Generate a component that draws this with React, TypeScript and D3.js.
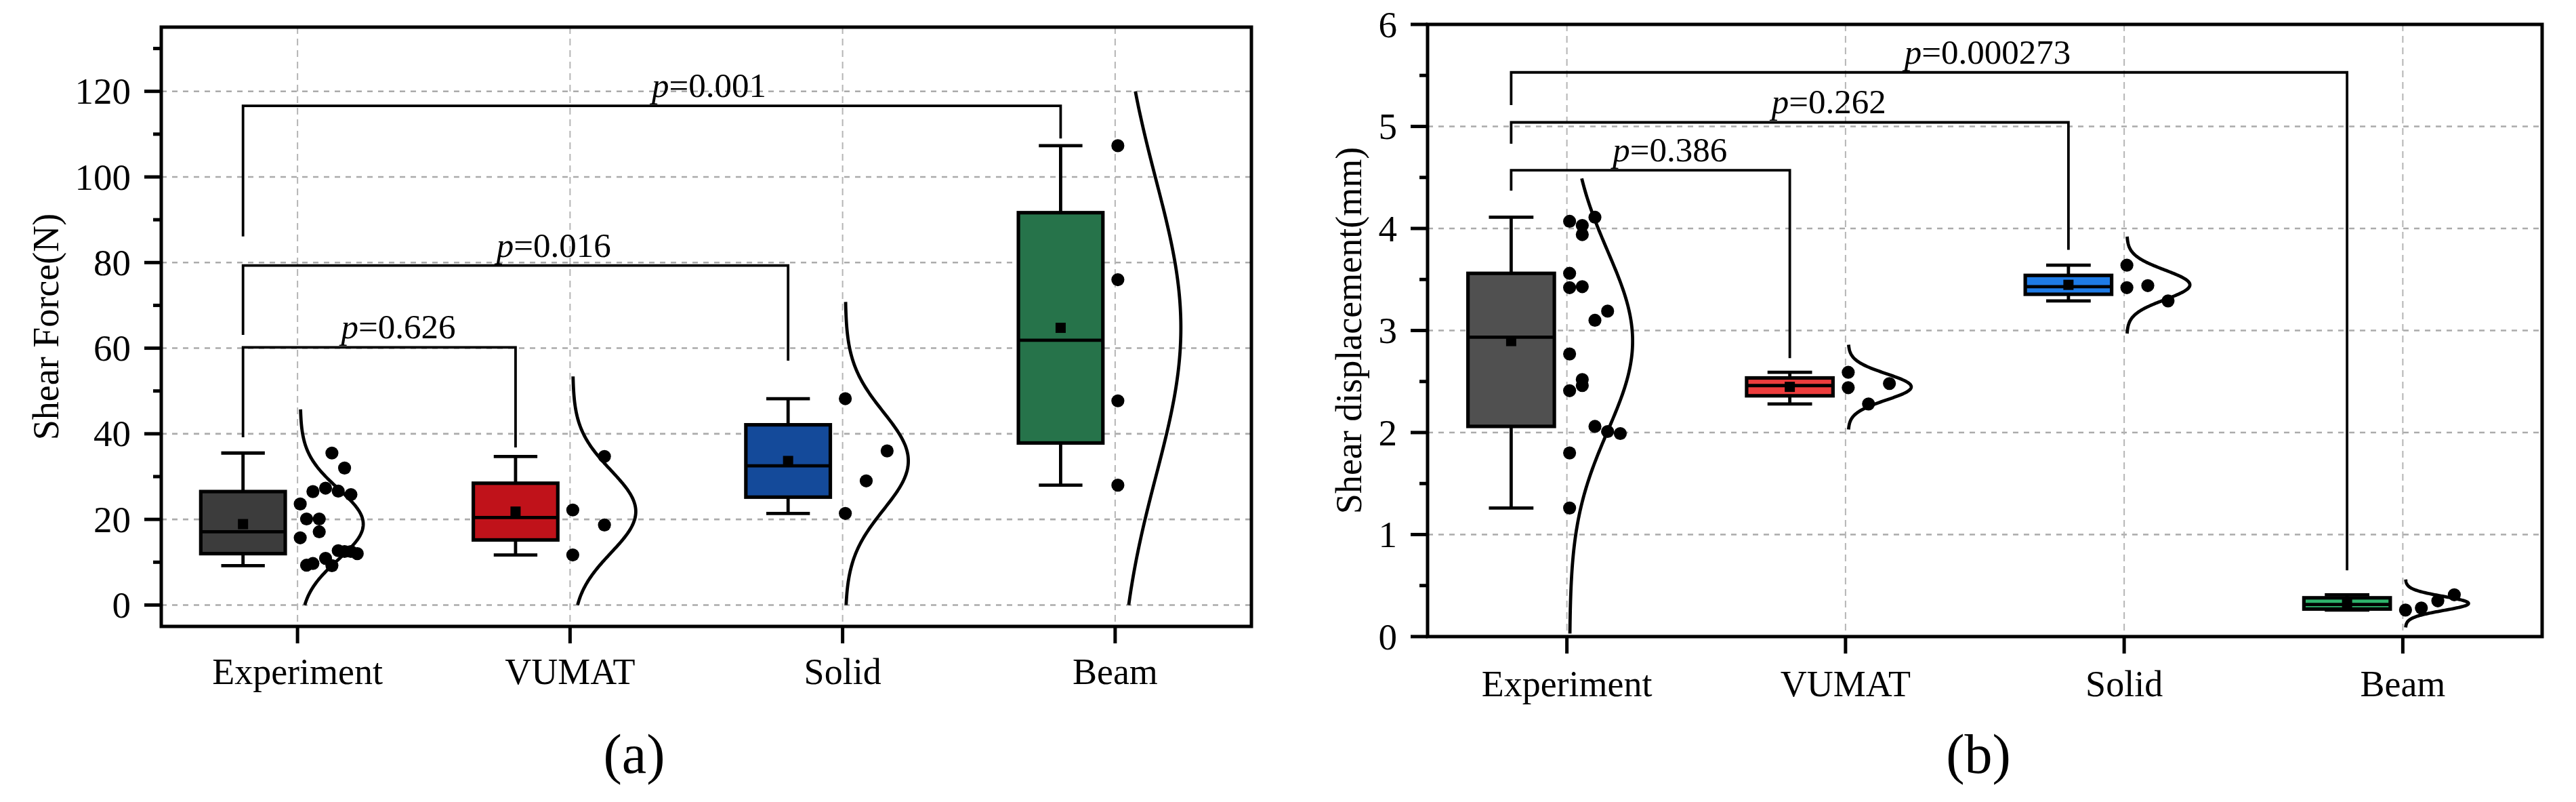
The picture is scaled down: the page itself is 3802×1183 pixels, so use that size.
import React from "react";
import * as d3 from "d3";

const categories = ["Experiment", "VUMAT", "Solid", "Beam"];

// ---------- Panel (a): Shear Force (N) ----------
const forceExperiment = [35.5, 32.0, 26.5, 27.3, 26.6, 25.8, 23.6, 20.1, 20.1, 17.1, 15.7, 12.7, 12.5, 12.5, 12.0, 10.9, 9.2, 9.3, 9.7];
const forceExperimentCol = [5, 7, 2, 4, 6, 8, 0, 1, 3, 3, 0, 6, 7, 8, 9, 4, 5, 1, 2];
const forceVumat = [22.2, 18.7, 11.7, 34.7];
const forceVumatCol = [0, 5, 0, 5];
const forceSolid = [48.2, 36.0, 29.0, 21.4];
const forceSolidCol = [0, 6.6, 3.3, 0];
const forceBeam = [107.3, 76.0, 47.7, 28.0];
const forceBeamCol = [0, 0, 0, 0];
const forceCurveLo = [0, 0, 0, 0];
const forceCurveHi = [45.7, 53.4, 70.8, 120];
const forceTicks = [0, 20, 40, 60, 80, 100, 120];
const forceMinorTicks = [10, 30, 50, 70, 90, 110, 130];
const forceColors = ["#3c3c3c", "#c0121a", "#144a9a", "#26734a"];
const forceBracketTo = [1, 2, 3];
const forceBracketP = ["0.626", "0.016", "0.001"];
const forceBracketLevel = [60.2, 79.3, 116.6];
const forceBracketLeftEnd = [39.2, 63.1, 86.1];
const forceBracketRightEnd = [36.8, 57.1, 109.0];

// ---------- Panel (b): Shear displacement (mm) ----------
const dispExperiment = [4.11, 4.07, 4.03, 3.94, 3.56, 3.42, 3.43, 3.19, 3.10, 2.77, 2.52, 2.46, 2.41, 2.06, 2.01, 1.99, 1.80, 1.26];
const dispExperimentCol = [4, 0, 2, 2, 0, 0, 2, 6, 4, 0, 2, 2, 0, 4, 6, 8, 0, 0];
const dispVumat = [2.59, 2.44, 2.48, 2.28];
const dispVumatCol = [0, 0, 6.5, 3.2];
const dispSolid = [3.64, 3.42, 3.44, 3.29];
const dispSolidCol = [0, 0, 3.3, 6.5];
const dispBeam = [0.26, 0.28, 0.35, 0.41];
const dispBeamCol = [0, 2.5, 5.1, 7.7];
const dispCurveLo = [0.03, 2.03, 2.97, 0.09];
const dispCurveHi = [4.49, 2.86, 3.92, 0.56];
const dispTicks = [0, 1, 2, 3, 4, 5, 6];
const dispMinorTicks = [0.5, 1.5, 2.5, 3.5, 4.5, 5.5];
const dispColors = ["#505050", "#ee3d3d", "#1e7be6", "#2fb36c"];
const dispBracketTo = [1, 2, 3];
const dispBracketP = ["0.386", "0.262", "0.000273"];
const dispBracketLevel = [4.57, 5.04, 5.53];
const dispBracketLeftEnd = [4.37, 4.83, 5.21];
const dispBracketRightEnd = [2.73, 3.79, 0.65];

const FONT = "'Liberation Serif','Times New Roman',Times,serif";

function stats(values: number[]) {
  const s = [...values].sort((a, b) => a - b);
  const n = s.length;
  const half = Math.floor(n / 2);
  return {
    min: s[0],
    max: s[n - 1],
    med: d3.median(s) as number,
    q1: d3.median(s.slice(0, half)) as number,
    q3: d3.median(s.slice(n - half)) as number,
    mean: d3.mean(s) as number,
    sd: d3.deviation(s) as number,
  };
}

type PanelProps = {
  left: number; right: number; top: number; bottom: number;
  domain: [number, number];
  ticks: number[]; minor: number[];
  series: number[][]; cols: number[][];
  curveLo: number[]; curveHi: number[];
  colors: string[];
  bTo: number[]; bP: string[]; bLevel: number[]; bLeft: number[]; bRight: number[];
  title: string; titleX: number; catLabelY: number;
  panelLabel: string; panelLabelX: number;
};

function Panel(p: PanelProps) {
  const x = d3.scaleBand<string>().domain(categories).range([p.left, p.right]);
  const y = d3.scaleLinear().domain(p.domain).range([p.bottom, p.top]);
  const step = x.bandwidth();
  const cx = (i: number) => (x(categories[i]) as number) + step / 2;
  const boxC = (i: number) => cx(i) - 0.2 * step;
  const boxW = 0.31 * step;
  const capW = 0.16 * step;
  const dotStep = 9.35;
  const amp = 93;
  const line = d3.line<[number, number]>();

  return (
    <g>
      {/* grid */}
      {p.ticks.filter(t => y(t) > p.top + 2 && y(t) < p.bottom - 2).map(t => (
        <line key={"gh" + t} x1={p.left} x2={p.right} y1={y(t)} y2={y(t)}
          stroke="#ababab" strokeWidth={2.6} strokeDasharray="8 8" />
      ))}
      {categories.map((c, i) => (
        <line key={"gv" + c} x1={cx(i)} x2={cx(i)} y1={p.top} y2={p.bottom}
          stroke="#b5b5b5" strokeWidth={2} strokeDasharray="10 7" />
      ))}

      {/* brackets */}
      {p.bTo.map((to, k) => {
        const xl = boxC(0);
        const xr = boxC(to);
        const d = `M${xl},${y(p.bLeft[k])}V${y(p.bLevel[k])}H${xr}V${y(p.bRight[k])}`;
        return (
          <g key={"br" + k}>
            <path d={d} fill="none" stroke="#000" strokeWidth={3.8} />
            <text x={xl + 0.57 * (xr - xl)} y={y(p.bLevel[k]) - 13} textAnchor="middle"
              fontFamily={FONT} fontSize={51}>
              <tspan fontStyle="italic">p</tspan>={p.bP[k]}
            </text>
          </g>
        );
      })}

      {/* boxes, curves, dots */}
      {p.series.map((vals, i) => {
        const s = stats(vals);
        const bc = boxC(i);
        const base = cx(i) + 4;
        const vs = d3.range(0, 161).map(j => p.curveLo[i] + (p.curveHi[i] - p.curveLo[i]) * j / 160);
        const pts: [number, number][] = vs.map(v => [
          base + amp * Math.exp(-0.5 * Math.pow((v - s.mean) / s.sd, 2)),
          y(v),
        ]);
        return (
          <g key={"s" + i}>
            <line x1={bc} x2={bc} y1={y(s.max)} y2={y(s.q3)} stroke="#000" strokeWidth={4.8} />
            <line x1={bc} x2={bc} y1={y(s.min)} y2={y(s.q1)} stroke="#000" strokeWidth={4.8} />
            <line x1={bc - capW / 2} x2={bc + capW / 2} y1={y(s.max)} y2={y(s.max)} stroke="#000" strokeWidth={4.8} />
            <line x1={bc - capW / 2} x2={bc + capW / 2} y1={y(s.min)} y2={y(s.min)} stroke="#000" strokeWidth={4.8} />
            <rect x={bc - boxW / 2} y={y(s.q3)} width={boxW} height={Math.max(0, y(s.q1) - y(s.q3))}
              fill={p.colors[i]} stroke="#000" strokeWidth={5.2} />
            <line x1={bc - boxW / 2} x2={bc + boxW / 2} y1={y(s.med)} y2={y(s.med)} stroke="#000" strokeWidth={4.8} />
            <rect x={bc - 7.5} y={y(s.mean) - 7.5} width={15} height={15} fill="#000" />
            <path d={line(pts) as string} fill="none" stroke="#000" strokeWidth={4.8} />
            {vals.map((v, j) => (
              <circle key={j} cx={base + p.cols[i][j] * dotStep} cy={y(v)} r={9.6} fill="#000" />
            ))}
          </g>
        );
      })}

      {/* frame */}
      <rect x={p.left} y={p.top} width={p.right - p.left} height={p.bottom - p.top}
        fill="none" stroke="#000" strokeWidth={5} />

      {/* y ticks */}
      {p.ticks.map(t => (
        <g key={"yt" + t}>
          <line x1={p.left - 25} x2={p.left} y1={y(t)} y2={y(t)} stroke="#000" strokeWidth={5} />
          <text x={p.left - 45} y={y(t)} textAnchor="end" dominantBaseline="central"
            fontFamily={FONT} fontSize={55}>{t}</text>
        </g>
      ))}
      {p.minor.map(t => (
        <line key={"ym" + t} x1={p.left - 12} x2={p.left} y1={y(t)} y2={y(t)} stroke="#000" strokeWidth={5} />
      ))}

      {/* x ticks */}
      {categories.map((c, i) => (
        <g key={"xt" + c}>
          <line x1={cx(i)} x2={cx(i)} y1={p.bottom} y2={p.bottom + 25} stroke="#000" strokeWidth={5} />
          <text x={cx(i)} y={p.catLabelY} textAnchor="middle" fontFamily={FONT} fontSize={54}>{c}</text>
        </g>
      ))}

      {/* axis title */}
      <text transform={`translate(${p.titleX},${(p.top + p.bottom) / 2}) rotate(-90)`}
        textAnchor="middle" fontFamily={FONT} fontSize={54}>{p.title}</text>

      {/* panel label */}
      <text x={p.panelLabelX} y={1140} textAnchor="middle" fontFamily={FONT} fontSize={82}>{p.panelLabel}</text>
    </g>
  );
}

export default function App() {
  return (
    <svg width={3802} height={1183} viewBox="0 0 3802 1183"
      style={{ position: "absolute", left: 0, top: 0, background: "#fff" }}>
      <rect x={0} y={0} width={3802} height={1183} fill="#fff" />
      <Panel
        left={238} right={1847} top={40} bottom={924}
        domain={[-5, 135]}
        ticks={forceTicks} minor={forceMinorTicks}
        series={[forceExperiment, forceVumat, forceSolid, forceBeam]}
        cols={[forceExperimentCol, forceVumatCol, forceSolidCol, forceBeamCol]}
        curveLo={forceCurveLo} curveHi={forceCurveHi}
        colors={forceColors}
        bTo={forceBracketTo} bP={forceBracketP} bLevel={forceBracketLevel}
        bLeft={forceBracketLeftEnd} bRight={forceBracketRightEnd}
        title="Shear Force(N)" titleX={86} catLabelY={1009}
        panelLabel="(a)" panelLabelX={936}
      />
      <Panel
        left={2107} right={3752} top={36} bottom={939}
        domain={[0, 6]}
        ticks={dispTicks} minor={dispMinorTicks}
        series={[dispExperiment, dispVumat, dispSolid, dispBeam]}
        cols={[dispExperimentCol, dispVumatCol, dispSolidCol, dispBeamCol]}
        curveLo={dispCurveLo} curveHi={dispCurveHi}
        colors={dispColors}
        bTo={dispBracketTo} bP={dispBracketP} bLevel={dispBracketLevel}
        bLeft={dispBracketLeftEnd} bRight={dispBracketRightEnd}
        title="Shear displacement(mm)" titleX={2009} catLabelY={1027}
        panelLabel="(b)" panelLabelX={2920}
      />
    </svg>
  );
}
